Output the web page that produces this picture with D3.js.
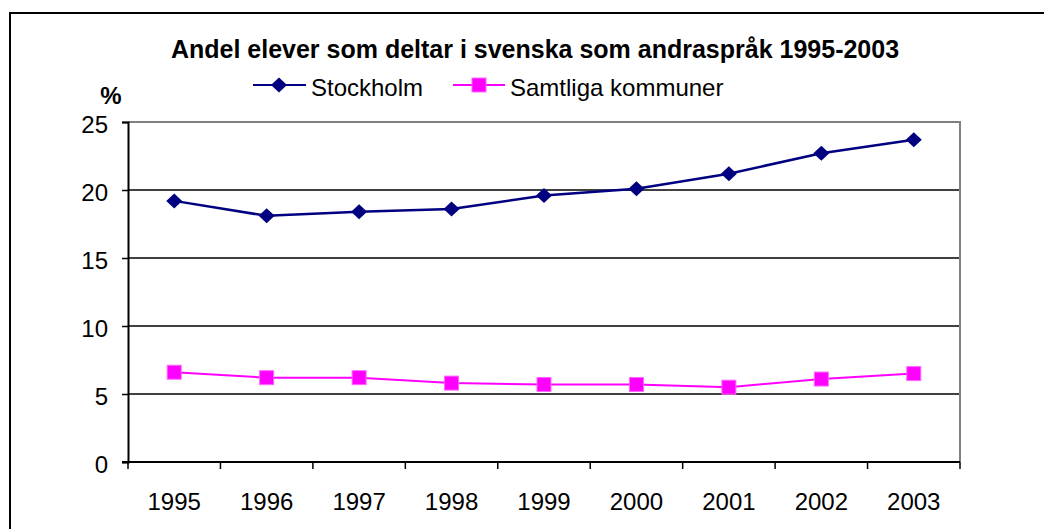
<!DOCTYPE html>
<html>
<head>
<meta charset="utf-8">
<script src="https://cdn.jsdelivr.net/npm/d3@7"></script>
<style>
	body { margin: 0; background: #fff; }
	svg text { font-family: Arial, "Liberation Sans", sans-serif; fill: #000; }
</style>
</head>
<body>
<div id="chart-area"></div>
<script>

// data
const years = ["1995", "1996", "1997", "1998", "1999", "2000", "2001", "2002", "2003"];
const stockholm = [19.2, 18.1, 18.4, 18.6, 19.6, 20.1, 21.2, 22.7, 23.7];
const samtliga = [6.6, 6.2, 6.2, 5.8, 5.7, 5.7, 5.5, 6.1, 6.5];
const yTicks = [0, 5, 10, 15, 20, 25];

const width = 1044;
const height = 529;
const margin = {top: 122, right: 84, bottom: 67, left: 128};

var svg = d3.select("#chart-area").append("svg")
	.attr("width", width)
	.attr("height", height);

// outer frame
svg.append("rect")
	.attr("x", 10).attr("y", 13)
	.attr("width", 1060).attr("height", 560)
	.attr("fill", "none")
	.attr("stroke", "#000")
	.attr("stroke-width", 2);

// scales
var x = d3.scaleBand()
	.domain(years)
	.range([margin.left, width - margin.right])
	.padding(0);

var y = d3.scaleLinear()
	.domain([0, 25])
	.range([height - margin.bottom, margin.top]);

var cx = d => x(d) + x.bandwidth() / 2;

// gridlines
svg.append("g")
	.selectAll("line")
	.data(yTicks.filter(t => t > 0 && t < 25))
	.enter().append("line")
	.attr("x1", margin.left).attr("x2", width - margin.right)
	.attr("y1", d => y(d)).attr("y2", d => y(d))
	.attr("stroke", "#000")
	.attr("stroke-width", 1.5);

// plot frame top + right (grey)
svg.append("path")
	.attr("d", `M${margin.left},${y(25)}H${width - margin.right}V${y(0)}`)
	.attr("fill", "none")
	.attr("stroke", "#808080")
	.attr("stroke-width", 2);

// y axis
var yAxis = svg.append("g")
	.attr("transform", `translate(${margin.left},0)`)
	.call(d3.axisLeft(y).tickValues(yTicks).tickSize(6).tickPadding(14));
yAxis.select(".domain").attr("stroke", "#000").attr("stroke-width", 2);
yAxis.selectAll(".tick line").attr("stroke", "#000").attr("stroke-width", 1.5);
yAxis.selectAll(".tick text")
	.style("font-size", "24px")
	.attr("dy", "0.45em")
	.attr("fill", "#000");

// x axis: ticks at category boundaries
svg.append("line")
	.attr("x1", margin.left - 6).attr("x2", width - margin.right)
	.attr("y1", y(0)).attr("y2", y(0))
	.attr("stroke", "#000").attr("stroke-width", 2);

var bounds = years.map(d => x(d)).concat([x(years[years.length - 1]) + x.bandwidth()]);
svg.append("g")
	.selectAll("line")
	.data(bounds)
	.enter().append("line")
	.attr("x1", d => d).attr("x2", d => d)
	.attr("y1", y(0)).attr("y2", y(0) + 7)
	.attr("stroke", "#000").attr("stroke-width", 1.5);

svg.append("g")
	.selectAll("text")
	.data(years)
	.enter().append("text")
	.attr("x", d => cx(d))
	.attr("y", y(0) + 48)
	.attr("text-anchor", "middle")
	.style("font-size", "24px")
	.text(d => d);

// lines
var line = d3.line()
	.x((d, i) => cx(years[i]))
	.y(d => y(d));

svg.append("path")
	.datum(samtliga)
	.attr("fill", "none")
	.attr("stroke", "#ff00ff")
	.attr("stroke-width", 2)
	.attr("d", line);

svg.append("path")
	.datum(stockholm)
	.attr("fill", "none")
	.attr("stroke", "#000080")
	.attr("stroke-width", 2.5)
	.attr("d", line);

// markers
function diamond(px, py) {
	return `M${px},${py - 7.5}L${px + 8},${py}L${px},${py + 7.5}L${px - 8},${py}Z`;
}

svg.selectAll(".dot1")
	.data(stockholm)
	.enter().append("path")
	.attr("class", "dot1")
	.attr("d", (d, i) => diamond(cx(years[i]), y(d)))
	.attr("fill", "#000080");

svg.selectAll(".dot2")
	.data(samtliga)
	.enter().append("rect")
	.attr("class", "dot2")
	.attr("x", (d, i) => cx(years[i]) - 7)
	.attr("y", d => y(d) - 7)
	.attr("width", 14)
	.attr("height", 14)
	.attr("fill", "#ff00ff")
	.attr("stroke", "#ff66ff")
	.attr("stroke-width", 1);

// title
svg.append("text")
	.attr("x", 535)
	.attr("y", 58)
	.attr("text-anchor", "middle")
	.style("font-size", "25px")
	.style("font-weight", "bold")
	.text("Andel elever som deltar i svenska som andraspråk 1995-2003");

svg.append("text")
	.attr("x", 111)
	.attr("y", 104)
	.attr("text-anchor", "middle")
	.style("font-size", "24px")
	.style("font-weight", "bold")
	.text("%");

// legend
var ly = 85;
svg.append("line")
	.attr("x1", 253).attr("x2", 306)
	.attr("y1", ly).attr("y2", ly)
	.attr("stroke", "#000080").attr("stroke-width", 2);
svg.append("path")
	.attr("d", diamond(279, ly))
	.attr("fill", "#000080");
svg.append("text")
	.attr("x", 311).attr("y", 96)
	.style("font-size", "24px")
	.text("Stockholm");

svg.append("line")
	.attr("x1", 453).attr("x2", 505)
	.attr("y1", ly).attr("y2", ly)
	.attr("stroke", "#ff00ff").attr("stroke-width", 2);
svg.append("rect")
	.attr("x", 472).attr("y", ly - 7)
	.attr("width", 14).attr("height", 14)
	.attr("fill", "#ff00ff")
	.attr("stroke", "#ff66ff")
	.attr("stroke-width", 1);
svg.append("text")
	.attr("x", 510).attr("y", 96)
	.style("font-size", "24px")
	.text("Samtliga kommuner");

</script>
</body>
</html>
